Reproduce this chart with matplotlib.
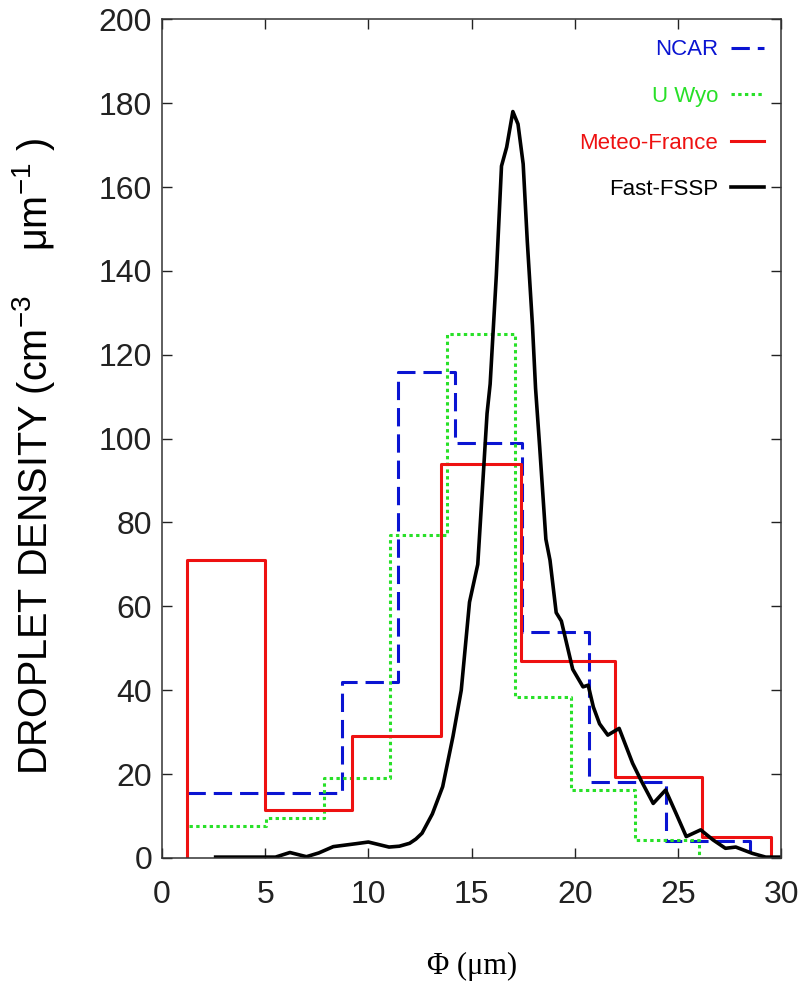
import numpy as np
import matplotlib
matplotlib.use("Agg")
import matplotlib.pyplot as plt

plt.rcParams['font.family'] = ['Liberation Sans', 'DejaVu Sans']
plt.rcParams['mathtext.fontset'] = 'custom'
plt.rcParams['mathtext.rm'] = 'Liberation Sans'
plt.rcParams['mathtext.it'] = 'Liberation Sans'

# bin edges (um) and droplet densities for the three histograms
ncar_edges = [1.2, 8.7, 11.45, 14.2, 17.45, 20.7, 24.4, 28.5]
ncar_vals = [15.5, 42, 116, 99, 54, 18, 4]
wyo_edges = [1.3, 5.05, 7.85, 11.05, 13.8, 17.1, 19.8, 22.9, 26.0]
wyo_vals = [7.6, 9.6, 19.1, 77, 125, 38.5, 16.3, 4.3]
mf_edges = [1.2, 5.0, 9.2, 13.5, 17.4, 21.95, 26.15, 29.5]
mf_vals = [71, 11.5, 29, 94, 47, 19.4, 5]

# Fast-FSSP spectrum
fssp_x = [2.6, 5.5, 6.2, 7.0, 7.6, 8.3, 9.4, 10.0, 10.5, 11.0, 11.5, 12.0, 12.3,
          12.6, 13.1, 13.6, 14.1, 14.5, 14.9, 15.3, 15.55, 15.75, 15.9, 16.2,
          16.45, 16.7, 17.0, 17.25, 17.5, 17.7, 17.95, 18.1, 18.3, 18.6, 18.8,
          19.1, 19.35, 19.9, 20.4, 20.65, 20.9, 21.2, 21.6, 22.15, 22.8, 23.2,
          23.8, 24.4, 24.9, 25.4, 26.1, 26.7, 27.3, 27.8, 28.6, 29.25, 29.9]
fssp_y = [0.2, 0.2, 1.3, 0.3, 1.2, 2.7, 3.4, 3.8, 3.2, 2.6, 2.8, 3.5, 4.5,
          5.9, 10.5, 17, 29, 40, 61, 70, 90, 106, 113, 139,
          165, 169.5, 178, 175, 165.5, 147, 127, 112, 98, 76, 71,
          58.5, 56.5, 45, 40.8, 41.2, 36, 32, 29.3, 30.9, 22.6, 18.6,
          13.0, 16.2, 10.7, 5.1, 6.7, 4.3, 2.3, 2.6, 1.1, 0.2, 0.2]


def steps(edges, vals, close_left=True, close_right=True):
    x = list(np.repeat(edges, 2)[1:-1])
    y = list(np.repeat(vals, 2))
    if close_left:
        x = [edges[0]] + x
        y = [0] + y
    if close_right:
        x = x + [edges[-1]]
        y = y + [0]
    return x, y


fig = plt.figure(figsize=(8.07, 9.89), dpi=100)
ax = fig.add_axes([0.2007, 0.1325, 0.7673, 0.848])

x, y = steps(ncar_edges, ncar_vals, close_left=False)
ax.plot(x, y, color='#0a14d2', lw=2.2, ls=(0, (6, 2.6)), label='NCAR')
x, y = steps(wyo_edges, wyo_vals, close_left=False)
ax.plot(x, y, color='#28e028', lw=2.2, ls=(0, (1.1, 1.1)), label='U Wyo')
x, y = steps(mf_edges, mf_vals)
ax.plot(x, y, color='#ee1111', lw=2.2, label='Meteo-France')
ax.plot(fssp_x, fssp_y, color='black', lw=2.6, solid_joinstyle='round',
        label='Fast-FSSP')

ax.set_xlim(0, 30)
ax.set_ylim(0, 200)
ax.set_xticks(np.arange(0, 31, 5))
ax.set_yticks(np.arange(0, 201, 20))
ax.tick_params(direction='in', length=7, width=1, top=True, right=True,
               labelsize=23, colors='#222222')
ax.tick_params(axis='x', pad=16)
ax.tick_params(axis='y', pad=7)
for s in ax.spines.values():
    s.set_linewidth(1.1)
    s.set_color('#333333')

ax.set_ylabel('DROPLET DENSITY (cm$^{-3}$    $\\mu$m$^{-1}$ )', fontsize=28.5)
ax.yaxis.set_label_coords(-0.17, 0.478)
ax.set_xlabel('Φ (μm)', fontsize=22, family=['Liberation Serif'], labelpad=30)

leg = ax.legend(loc='upper right', bbox_to_anchor=(0.972, 0.976),
                frameon=False, markerfirst=False, fontsize=16,
                labelcolor='linecolor', handlelength=1.5, handletextpad=0.55,
                labelspacing=1.15, borderpad=0, borderaxespad=0)

fig.savefig('out.png', dpi=100)
